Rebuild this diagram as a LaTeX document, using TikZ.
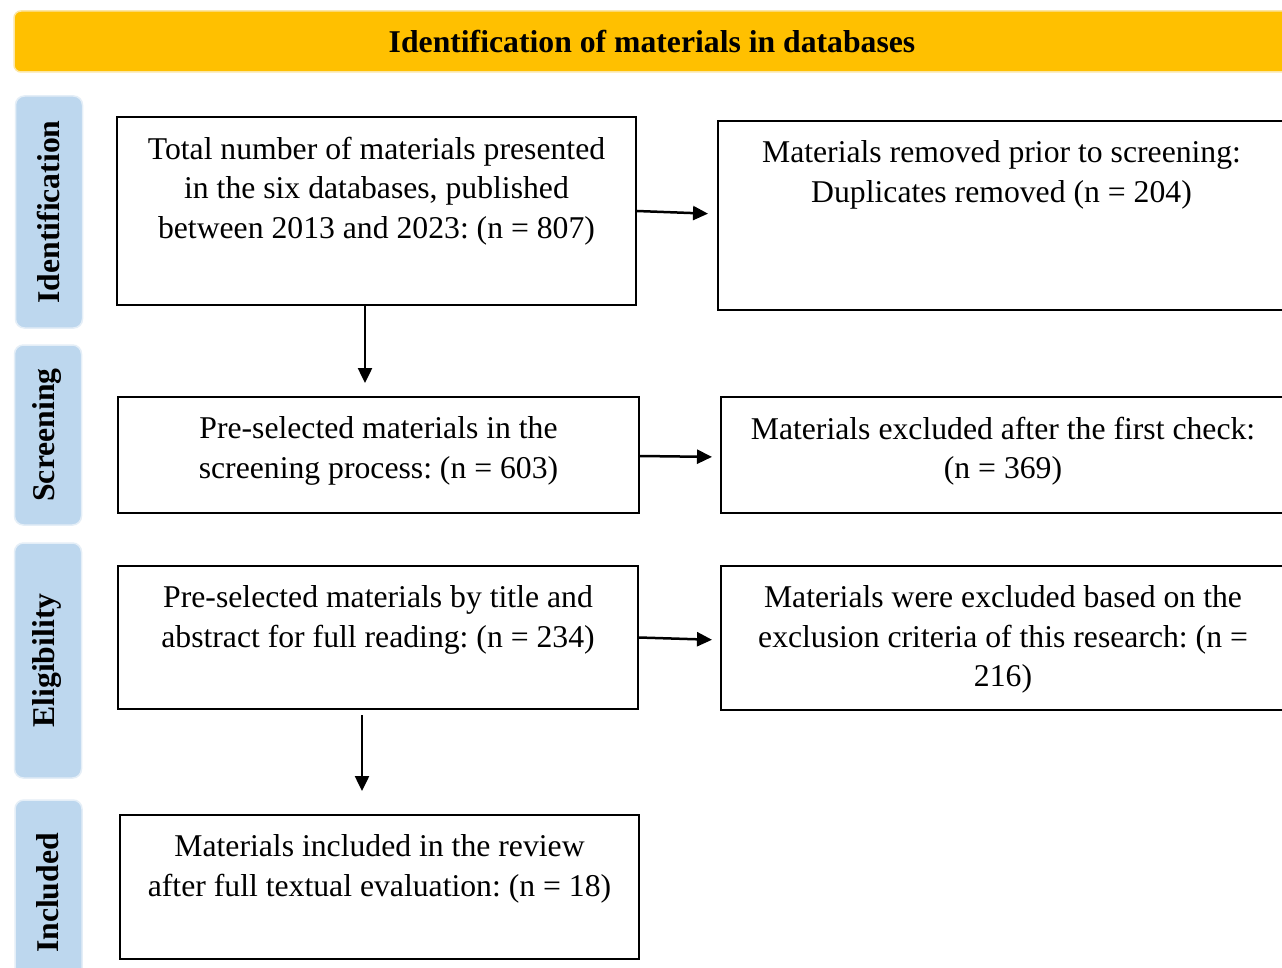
\documentclass[tikz,border=0pt]{standalone}
\usepackage{fontspec}
\setmainfont{Liberation Serif}
\frenchspacing
\usetikzlibrary{arrows.meta,calc}
\definecolor{banner}{HTML}{FFC000}
\definecolor{bannerline}{HTML}{FBE6A6}
\definecolor{stage}{HTML}{BDD7EE}
\definecolor{stageline}{HTML}{E4EEF7}
\tikzset{
  boxnode/.style={draw=black,line width=2pt,inner sep=0pt},
  boxtext/.style={anchor=north,align=center,inner sep=0pt,font=\fontsize{31.7}{39.5}\selectfont},
  stagenode/.style={fill=stage,draw=stageline,line width=1.5pt,rounded corners=9pt,minimum width=67pt,inner sep=0pt},
  stagetext/.style={rotate=90,inner sep=0pt,font=\fontsize{31.7}{39.5}\selectfont\bfseries},
  arr/.style={line width=2.5pt,-{Triangle[length=15pt,width=14pt]}}
}
\begin{document}
\begin{tikzpicture}[x=1pt,y=1pt]
\clip (0,0) rectangle (1282,-968);
\fill[white] (0,0) rectangle (1282,-968);
% banner
\node[fill=banner,draw=bannerline,line width=1.5pt,rounded corners=7pt,minimum width=1276pt,minimum height=61pt,inner sep=0pt,font=\fontsize{31.7}{39.5}\selectfont\bfseries] (banner) at (652,-41.5) {Identification of materials in databases};
% stage labels
\node[stagenode,minimum height=232pt] (L1) at (49,-212) {};
\node[stagetext] (T1) at ([xshift=-1pt]L1.center) {Identification};
\node[stagenode,minimum height=180pt] (L2) at (48,-435) {};
\node[stagetext] (T2) at ([xshift=-1pt]L2.center) {Screening};
\node[stagenode,minimum height=235pt] (L3) at (48,-660.5) {};
\node[stagetext] (T3) at ([xshift=-1pt]L3.center) {Eligibility};
\node[stagenode,minimum height=186pt] (L4) at (48.5,-893) {};
\node[stagetext] (T4) at ([xshift=-1pt]L4.center) {Included};
% boxes
\node[boxnode,minimum width=519pt,minimum height=188pt] (A) at (376.5,-211) {};
\node[boxtext] (tA) at (376.5,-136.5) {Total number of materials presented\\in the six databases, published\\between 2013 and 2023: (n = 807)};
\node[boxnode,minimum width=567pt,minimum height=189pt] (B) at (1001.5,-215.5) {};
\node[boxtext] (tB) at (1001.5,-140.5) {Materials removed prior to screening:\\Duplicates removed (n = 204)};
\node[boxnode,minimum width=521pt,minimum height=116pt] (C) at (378.5,-455) {};
\node[boxtext] (tC) at (378.5,-416.5) {Pre-selected materials in the\\screening process: (n = 603)};
\node[boxnode,minimum width=564pt,minimum height=116pt] (D) at (1003,-455) {};
\node[boxtext] (tD) at (1003,-416.5) {Materials excluded after the first check:\\(n = 369)};
\node[boxnode,minimum width=520pt,minimum height=143pt] (E) at (378,-637.5) {};
\node[boxtext] (tE) at (378,-585.5) {Pre-selected materials by title and\\abstract for full reading: (n = 234)};
\node[boxnode,minimum width=564pt,minimum height=144pt] (F) at (1003,-638) {};
\node[boxtext] (tF) at (1003,-585.5) {Materials were excluded based on the\\exclusion criteria of this research: (n =\\216)};
\node[boxnode,minimum width=519pt,minimum height=144pt] (G) at (379.5,-887) {};
\node[boxtext] (tG) at (379.5,-834.5) {Materials included in the review\\after full textual evaluation: (n = 18)};
% connectors
\draw[arr,shorten >=9pt] (A.east) -- ([yshift=1.5pt]B.west);
\draw[arr,shorten >=13pt] ([xshift=-11.5pt]A.south) -- ([xshift=-13.5pt]C.north);
\draw[arr,shorten >=8pt] ([yshift=-1pt]C.east) -- ([yshift=-2pt]D.west);
\draw[arr,shorten >=8pt] (E.east) -- ([yshift=-2pt]F.west);
\draw[arr,shorten <=5pt,shorten >=23pt] ([xshift=-16pt]E.south) -- ([xshift=-17.5pt]G.north);
\end{tikzpicture}
\end{document}
